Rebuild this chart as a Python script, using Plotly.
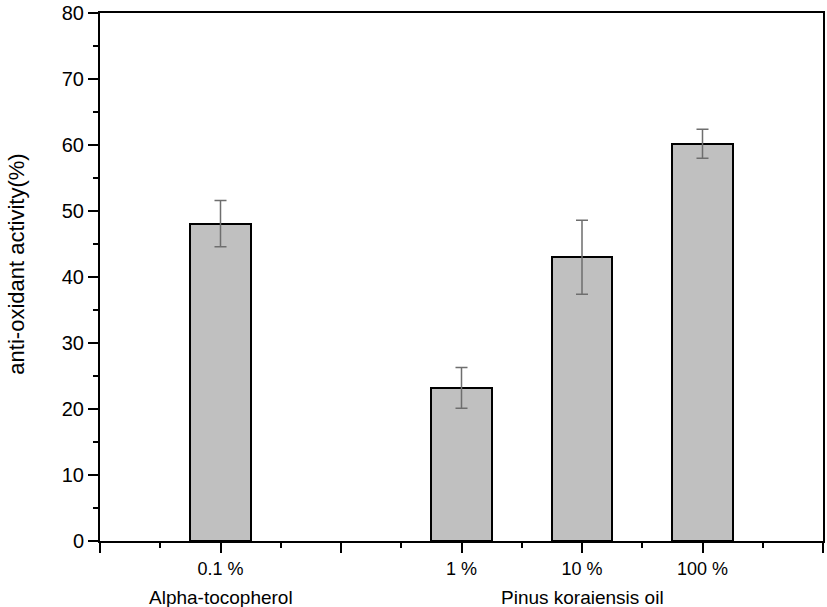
import plotly.graph_objects as go

categories = ["0.1 %", "1 %", "10 %", "100 %"]
positions = [1, 3, 4, 5]
values = [48.1, 23.2, 43.0, 60.2]
errors = [3.5, 3.1, 5.6, 2.2]
group_labels = ["Alpha-tocopherol", "Pinus koraiensis oil"]
group_positions = [1, 4]

FONT = "Liberation Sans, Arial, sans-serif"

fig = go.Figure()
fig.add_trace(go.Bar(
    x=positions, y=values, width=0.5,
    marker=dict(color="#c0c0c0", line=dict(color="black", width=2)),
    error_y=dict(type="data", array=errors, visible=True,
                 color="#6e6e6e", thickness=1.5, width=6),
    showlegend=False,
))

for lab, pos in zip(group_labels, group_positions):
    fig.add_annotation(x=pos, y=0, xref="x", yref="paper", yshift=-56,
                       text=lab, showarrow=False, yanchor="middle",
                       font=dict(family=FONT, size=19, color="black"))

fig.add_annotation(x=-0.115, y=0.525, xref="paper", yref="paper",
                   text="anti-oxidant activity(%)", textangle=-90,
                   showarrow=False, xanchor="center", yanchor="middle",
                   font=dict(family=FONT, size=22, color="black"))

fig.update_layout(
    width=827, height=607,
    margin=dict(l=100, r=2, t=10, b=66),
    plot_bgcolor="white", paper_bgcolor="white",
    font=dict(family=FONT, color="black"),
    bargap=0,
)
fig.update_xaxes(
    range=[0, 6], tickmode="array",
    tickvals=[0] + positions[:1] + [2] + positions[1:] + [6],
    ticktext=["", categories[0], ""] + categories[1:] + [""],
    ticks="outside", ticklen=10, tickwidth=2, tickcolor="black",
    minor=dict(dtick=0.5, ticks="outside", ticklen=5, tickwidth=2, tickcolor="black"),
    showline=True, linecolor="black", linewidth=2, mirror=True,
    showgrid=False, zeroline=False,
    tickfont=dict(family=FONT, size=18, color="black"),
)
fig.update_yaxes(
    range=[0, 80], dtick=10, tick0=0,
    ticks="outside", ticklen=10, tickwidth=2, tickcolor="black",
    minor=dict(dtick=5, ticks="outside", ticklen=5, tickwidth=2, tickcolor="black"),
    showline=True, linecolor="black", linewidth=2, mirror=True,
    showgrid=False, zeroline=False, ticklabeloverflow="allow",
    tickfont=dict(family=FONT, size=20, color="black"),
)

fig.write_html(
    "out.html",
    config={"displayModeBar": False},
    post_script="document.body.style.margin='0';document.body.style.overflow='hidden';",
)
